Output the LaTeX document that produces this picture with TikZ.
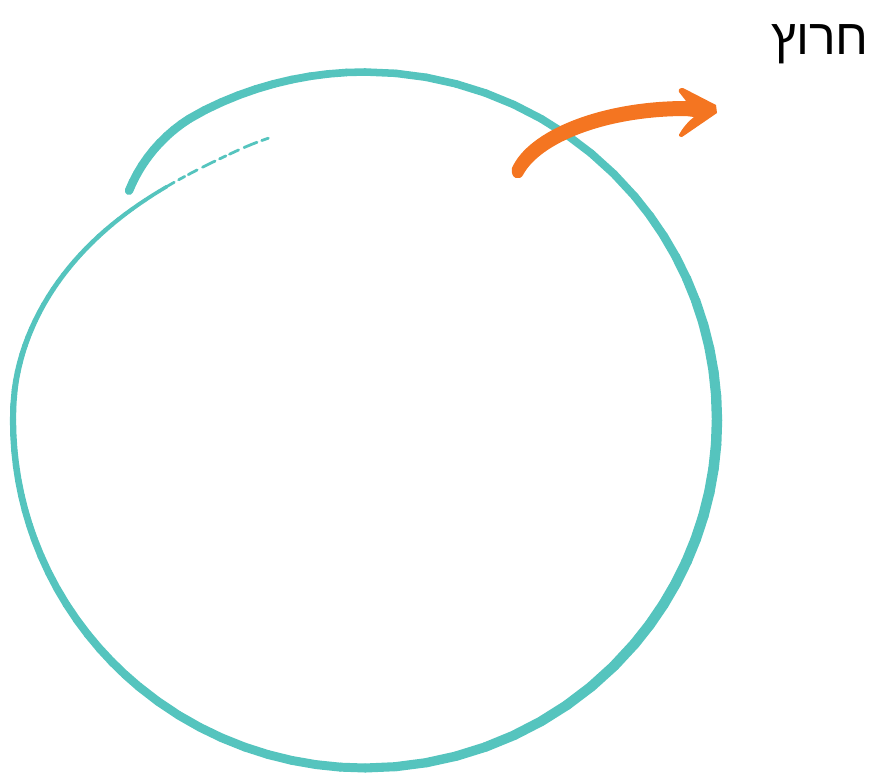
\documentclass[tikz,border=0pt]{standalone}
\usepackage{fontspec}
\newfontfamily\hebfont[Script=Hebrew]{Liberation Sans}
\TeXXeTstate=1
\definecolor{ringteal}{HTML}{55C4BE}
\definecolor{arroworange}{HTML}{F47521}
\tikzset{
  ring/.style={draw=ringteal, line cap=round, line join=round},
  label/.style={font=\hebfont\fontsize{50}{56}\selectfont, inner sep=0pt, text=black},
}
% radial scale of the hand-drawn ring as a function of the angle
\pgfmathdeclarefunction{ringS}{1}{%
  \pgfmathparse{(#1<-118) ? (1-0.06*((-118-(#1))/17.5)*((-118-(#1))/17.5)) :
    ((#1<182) ? 1 : ((#1<245) ? (1-0.145*(((#1)-182)/63)*(((#1)-182)/63)*(3-2*(((#1)-182)/63))) : 0.855))}%
}
\begin{document}
\begin{tikzpicture}[x=1pt, y=-1pt]
\useasboundingbox (0,0) rectangle (876,772);
% hand-drawn ring (variable width stroke)
\foreach \ta/\tb/\wa/\wb in {
  -135.5/-120/8.5/8.5,
  -120/-90/8.5/7.5,
  -90/-40/7.5/8,
  -40/0/8/10.5,
  0/40/10.5/10.5,
  40/90/10.5/9,
  90/130/9/8.5,
  130/160/8.5/7,
  160/185/7/6,
  185/200/6/5,
  200/215/5/4.5,
  215/230/4.5/3.5}{
  \foreach \i in {0,...,9}{
    \pgfmathsetmacro\tA{(\ta)+((\tb)-(\ta))*\i/10}
    \pgfmathsetmacro\tB{(\ta)+((\tb)-(\ta))*(\i+1)/10}
    \pgfmathsetmacro\sA{ringS(\tA)}
    \pgfmathsetmacro\sB{ringS(\tB)}
    \pgfmathsetmacro\wA{(\wa)+((\wb)-(\wa))*(\i+0.5)/10}
    \draw[ring, line width=\wA pt]
      ({365+352*\sA*cos(\tA)},{420+348*\sA*sin(\tA)}) --
      ({365+352*\sB*cos(\tB)},{420+348*\sB*sin(\tB)});
  }
}
% fading broken end of the stroke
\draw[ring, line width=2.8pt, dash pattern=on 14pt off 5pt on 7pt off 4pt on 10pt off 6pt]
  plot[domain=229:252, samples=24, smooth]
  ({365+352*ringS(\x)*cos(\x)},{420+348*ringS(\x)*sin(\x)});
% orange curved arrow
\fill[arroworange]
  (512,168) .. controls (528,131) and (600,101) .. (686,101)
  -- (679,92) .. controls (678,89) and (680,88) .. (683,88)
  -- (716,105) -- (717,113)
  -- (682,137) .. controls (679,137) and (678,135) .. (680,133)
  .. controls (684,126) and (690,120) .. (694,117)
  -- (686,116) .. controls (605,116) and (540,143) .. (523,175)
  .. controls (520,181) and (510,179) .. (512,168) -- cycle;
% label
\node[label, anchor=base east] (word) at (869,54) {\beginR חרוץ\endR};
\end{tikzpicture}
\end{document}
